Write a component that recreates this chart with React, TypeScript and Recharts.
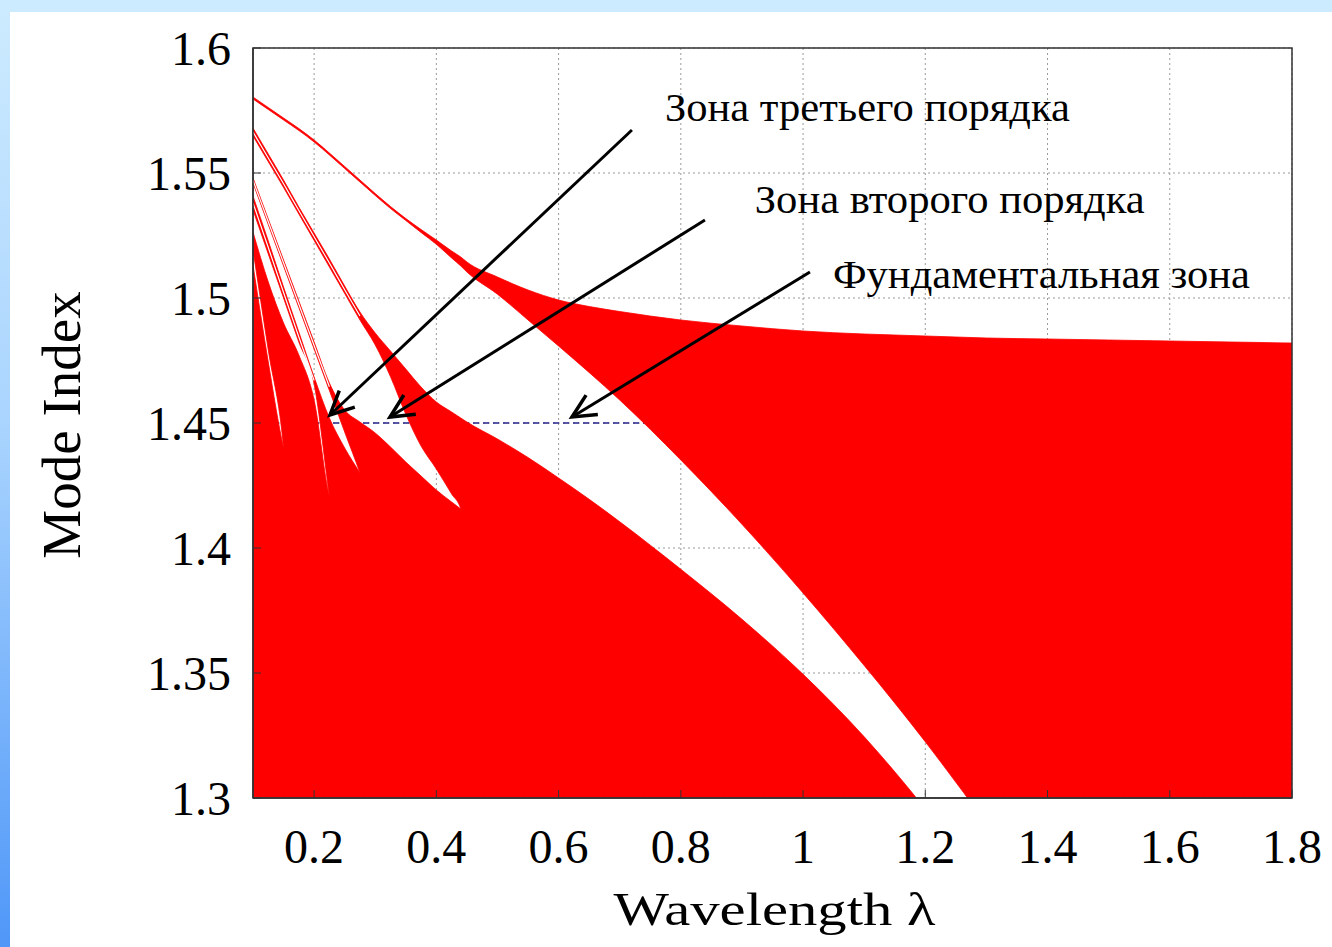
import React from "react";
import {
    ComposedChart,
    Area,
    Line,
    XAxis,
    YAxis,
    CartesianGrid,
    ReferenceLine,
    ReferenceDot,
    ReferenceArea,
    Label,
} from "recharts";

const serif = "'Liberation Serif', 'Times New Roman', serif";

// wavelength grid shared by all band edges
const lambda = [
    0.1, 0.125, 0.15, 0.175, 0.2, 0.225, 0.25, 0.275, 0.3, 0.325,
    0.35, 0.375, 0.4, 0.425, 0.44, 0.45, 0.5, 0.55, 0.6, 0.65,
    0.7, 0.8, 0.9, 1.0, 1.1, 1.15, 1.2, 1.25, 1.3, 1.4,
    1.5, 1.6, 1.7, 1.8,
];

// fundamental zone
const fUpper = [
    1.5804, 1.5762, 1.572, 1.5678, 1.5632, 1.558, 1.5526, 1.5472, 1.5418, 1.5366,
    1.5318, 1.5274, 1.5232, 1.5188, 1.5164, 1.5144, 1.5084, 1.5032, 1.4992, 1.4966,
    1.4946, 1.4912, 1.4888, 1.4868, 1.4856, 1.4852, 1.4848, 1.4844, 1.484, 1.4836,
    1.4832, 1.4828, 1.4824, 1.482,
];
const fLower = [
    1.5796, 1.5754, 1.5712, 1.567, 1.5624, 1.5572, 1.5518, 1.5464, 1.541, 1.5358,
    1.531, 1.5262, 1.5215, 1.516, 1.5128, 1.5104, 1.5015, 1.4912, 1.4808, 1.4702,
    1.4592, 1.4352, 1.4095, 1.382, 1.353, 1.338, 1.3225, 1.3063, 1.2895, 1.25,
    1.25, 1.25, 1.25, 1.25,
];

// second order zone
const s2Upper = [
    1.568, 1.5576, 1.5472, 1.5364, 1.526, 1.5156, 1.5048, 1.4944, 1.486, 1.4788,
    1.4716, 1.4644, 1.4584, 1.4544, 1.452, 1.4504, 1.4436, 1.4362, 1.428, 1.4195,
    1.4105, 1.3915, 1.3715, 1.3495, 1.3245, 1.3105, 1.2955, 1.279, 1.26, 1.25,
    1.25, 1.25, 1.25, 1.25,
];
const s2Lower = [
    1.5648, 1.5545, 1.5442, 1.5336, 1.523, 1.5124, 1.5018, 1.4912, 1.4812, 1.4685,
    1.4535, 1.4408, 1.4316, 1.4216, 1.4156, 1.4012, 1.25, 1.25, 1.25, 1.25,
    1.25, 1.25, 1.25, 1.25, 1.25, 1.25, 1.25, 1.25, 1.25, 1.25,
    1.25, 1.25, 1.25, 1.25,
];
const s2Slit = [
    1.5664, 1.556, 1.5457, 1.535, 1.5245, 1.514, 1.5033, 1.4928, null, null,
    null, null, null, null, null, null, null, null, null, null,
    null, null, null, null, null, null, null, null, null, null,
    null, null, null, null,
];

// third order zone
const t3Upper = [
    1.548, 1.5316, 1.5152, 1.4988, 1.4824, 1.466, 1.4552, 1.4504, 1.446, 1.4404,
    1.4344, 1.4288, 1.4232, 1.4184, 1.4156, 1.4136, 1.4032, null, null, null,
    null, null, null, null, null, null, null, null, null, null,
    null, null, null, null,
];
const t3Lower = [
    1.546, 1.5294, 1.5128, 1.4962, 1.4796, 1.463, 1.4464, 1.43, 1.4112, 1.35,
    1.25, 1.25, 1.25, 1.25, 1.25, 1.25, 1.25, null, null, null,
    null, null, null, null, null, null, null, null, null, null,
    null, null, null, null,
];
const t3Slit = [
    1.547, 1.5305, 1.514, 1.4975, 1.481, 1.4645, null, null, null, null,
    null, null, null, null, null, null, null, null, null, null,
    null, null, null, null, null, null, null, null, null, null,
    null, null, null, null,
];

// higher order zones
const t4Upper = [
    1.5408, 1.5228, 1.5044, 1.4864, 1.4684, 1.452, 1.44, 1.43, 1.42, 1.4,
    1.38, null, null, null, null, null, null, null, null, null,
    null, null, null, null, null, null, null, null, null, null,
    null, null, null, null,
];
const t4Lower = [
    1.5352, 1.5176, 1.5, 1.4824, 1.4656, 1.4208, 1.38, 1.33, 1.25, 1.25,
    1.25, null, null, null, null, null, null, null, null, null,
    null, null, null, null, null, null, null, null, null, null,
    null, null, null, null,
];
const t4Slit = [
    1.538, 1.5202, 1.5022, 1.4844, 1.467, null, null, null, null, null,
    null, null, null, null, null, null, null, null, null, null,
    null, null, null, null, null, null, null, null, null, null,
    null, null, null, null,
];
const t5Upper = [
    1.5264, 1.5064, 1.49, 1.4772, 1.4592, 1.4208, 1.41, 1.4, 1.39, null,
    null, null, null, null, null, null, null, null, null, null,
    null, null, null, null, null, null, null, null, null, null,
    null, null, null, null,
];
const t5Lower = [
    1.5192, 1.4792, 1.44, 1.35, 1.25, 1.25, 1.25, 1.25, 1.25, null,
    null, null, null, null, null, null, null, null, null, null,
    null, null, null, null, null, null, null, null, null, null,
    null, null, null, null,
];
const t6Upper = [
    1.5132, 1.4744, 1.44, 1.42, 1.4, null, null, null, null, null,
    null, null, null, null, null, null, null, null, null, null,
    null, null, null, null, null, null, null, null, null, null,
    null, null, null, null,
];
const floorLevel = 1.25;

const xTicks = [0.2, 0.4, 0.6, 0.8, 1, 1.2, 1.4, 1.6, 1.8];
const yTicks = [1.3, 1.35, 1.4, 1.45, 1.5, 1.55, 1.6];
const dashedLevel = 1.45;

const noteTexts = ["Зона третьего порядка", "Зона второго порядка", "Фундаментальная зона"];
const noteX = [0.774, 0.921, 1.049];
const noteY = [1.5708, 1.534, 1.504];
const noteWidth = [405, 390, 417];
const arrowFromX = [0.72, 0.8395, 1.0113];
const arrowFromY = [1.5672, 1.5312, 1.5104];
const arrowToX = [0.226, 0.3241, 0.6219];
const arrowToY = [1.4532, 1.4524, 1.4524];

const pair = (lo: number | null, hi: number | null) =>
    lo == null || hi == null ? null : [lo, hi];

const rows = lambda.map((lam, i) => ({
    lam,
    fBand: pair(fLower[i], fUpper[i]),
    s2Band: pair(s2Lower[i], s2Upper[i]),
    t3Band: pair(t3Lower[i], t3Upper[i]),
    t4Band: pair(t4Lower[i], t4Upper[i]),
    t5Band: pair(t5Lower[i], t5Upper[i]),
    t6Band: pair(t6Upper[i] == null ? null : floorLevel, t6Upper[i]),
    s2Slit: s2Slit[i],
    t3Slit: t3Slit[i],
    t4Slit: t4Slit[i],
}));

const dashedRows = [
    { lam: lambda[0], v: dashedLevel },
    { lam: lambda[lambda.length - 1], v: dashedLevel },
];

const bandKeys = ["t6Band", "t5Band", "t4Band", "t3Band", "s2Band", "fBand"];
const slitKeys = ["s2Slit", "t3Slit", "t4Slit"];

function Arrow(props: any) {
    const { x1, y1, x2, y2 } = props;
    const ang = Math.atan2(y2 - y1, x2 - x1);
    const len = 26;
    const spread = 0.45;
    const ax = x2 - len * Math.cos(ang - spread);
    const ay = y2 - len * Math.sin(ang - spread);
    const bx = x2 - len * Math.cos(ang + spread);
    const by = y2 - len * Math.sin(ang + spread);
    return (
        <g>
            <line x1={x1} y1={y1} x2={x2} y2={y2} stroke="#000" strokeWidth={3} />
            <polyline
                points={`${ax},${ay} ${x2},${y2} ${bx},${by}`}
                fill="none"
                stroke="#000"
                strokeWidth={3.5}
            />
        </g>
    );
}

function noteShape(text: string, width: number) {
    return (props: any) => (
        <text
            x={props.cx}
            y={props.cy}
            fontSize={41}
            fontFamily={serif}
            fill="#000"
            textLength={width}
            lengthAdjust="spacingAndGlyphs"
        >
            {text}
        </text>
    );
}

function XTitle(props: any) {
    const vb = props.viewBox || {};
    return (
        <text
            x={vb.x + vb.width / 2 + 2}
            y={vb.y + 127}
            textAnchor="middle"
            fontSize={47}
            fontFamily={serif}
            fill="#000"
            textLength={322}
            lengthAdjust="spacingAndGlyphs"
        >
            Wavelength λ
        </text>
    );
}

function YTitle(props: any) {
    const vb = props.viewBox || {};
    const cx = vb.x - 73;
    const cy = vb.y + vb.height / 2 + 2;
    return (
        <text
            x={cx}
            y={cy}
            transform={`rotate(-90 ${cx} ${cy})`}
            textAnchor="middle"
            fontSize={55}
            fontFamily={serif}
            fill="#000"
        >
            Mode Index
        </text>
    );
}

export default function App() {
    return (
        <div
            style={{
                position: "fixed",
                left: 0,
                top: 0,
                width: 1332,
                height: 947,
                background: "#cdebfe",
                overflow: "hidden",
            }}
        >
            <div
                style={{
                    position: "absolute",
                    left: 0,
                    top: 0,
                    width: 10,
                    height: 947,
                    background: "linear-gradient(#cdebfe, #a9d4fe 45%, #4f97f8)",
                }}
            />
            <div
                style={{
                    position: "absolute",
                    left: 10,
                    top: 12,
                    right: 0,
                    bottom: 0,
                    background: "#fff",
                }}
            />
            <div style={{ position: "absolute", left: 0, top: 0 }}>
                <ComposedChart
                    width={1332}
                    height={947}
                    data={rows}
                    margin={{ top: 48, right: 40, bottom: 89, left: 153 }}
                >
                    <CartesianGrid stroke="#9a9a9a" strokeDasharray="2 3" />
                    <XAxis
                        dataKey="lam"
                        type="number"
                        domain={[0.1, 1.8]}
                        ticks={xTicks}
                        interval={0}
                        allowDataOverflow
                        height={60}
                        tickSize={-8}
                        tickMargin={39}
                        axisLine={{ stroke: "#333", strokeWidth: 1.5 }}
                        tickLine={{ stroke: "#333" }}
                        tick={{ fontSize: 48, fill: "#000", fontFamily: serif }}
                    >
                        <Label content={XTitle} />
                    </XAxis>
                    <YAxis
                        type="number"
                        domain={[1.3, 1.6]}
                        ticks={yTicks}
                        interval={0}
                        allowDataOverflow
                        width={100}
                        tickSize={-8}
                        tickMargin={30}
                        axisLine={{ stroke: "#333", strokeWidth: 1.5 }}
                        tickLine={{ stroke: "#333" }}
                        tick={{ fontSize: 48, fill: "#000", fontFamily: serif }}
                    >
                        <Label content={YTitle} />
                    </YAxis>
                    <Line
                        data={dashedRows}
                        dataKey="v"
                        stroke="#23238a"
                        strokeWidth={1.5}
                        strokeDasharray="6 4"
                        dot={false}
                        activeDot={false}
                        isAnimationActive={false}
                        zIndex={50}
                    />
                    {bandKeys.map((k) => (
                        <Area
                            key={k}
                            dataKey={k}
                            type="monotone"
                            fill="#ff0000"
                            fillOpacity={1}
                            stroke="#ff0000"
                            strokeWidth={0.8}
                            dot={false}
                            activeDot={false}
                            connectNulls={false}
                            isAnimationActive={false}
                        />
                    ))}
                    {slitKeys.map((k) => (
                        <Line
                            key={k}
                            dataKey={k}
                            type="monotone"
                            stroke="#ffffff"
                            strokeWidth={1.2}
                            dot={false}
                            activeDot={false}
                            connectNulls={false}
                            isAnimationActive={false}
                        />
                    ))}
                    <ReferenceArea
                        x1={0.1}
                        x2={1.8}
                        y1={1.3}
                        y2={1.6}
                        fill="none"
                        stroke="#333"
                        strokeWidth={1.5}
                        ifOverflow="visible"
                    />
                    {arrowFromX.map((x, i) => (
                        <ReferenceLine
                            key={"arrow" + i}
                            segment={[
                                { x, y: arrowFromY[i] },
                                { x: arrowToX[i], y: arrowToY[i] },
                            ]}
                            shape={Arrow}
                            ifOverflow="visible"
                        />
                    ))}
                    {noteTexts.map((t, i) => (
                        <ReferenceDot
                            key={"note" + i}
                            x={noteX[i]}
                            y={noteY[i]}
                            r={1}
                            ifOverflow="visible"
                            shape={noteShape(t, noteWidth[i])}
                        />
                    ))}
                </ComposedChart>
            </div>
        </div>
    );
}
